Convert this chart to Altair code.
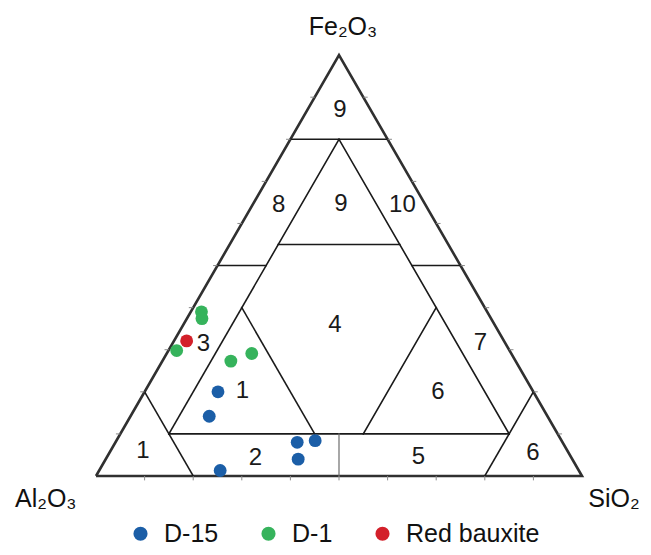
import altair as alt
import pandas as pd

# ---- sample compositions (%, Al2O3 / SiO2 / Fe2O3) ----
d15_al = [64.9, 69.6, 73.8, 54.6, 50.7, 56.4]
d15_si = [15.1, 16.2, 24.9, 37.4, 40.9, 39.6]
d15_fe = [20.0, 14.2, 1.3, 8.0, 8.4, 4.0]

d1_al = [58.8, 59.5, 68.5, 58.6, 53.4]
d1_si = [2.2, 3.1, 1.7, 14.1, 17.5]
d1_fe = [39.0, 37.4, 29.8, 27.3, 29.1]

red_al = [65.3]
red_si = [2.6]
red_fe = [32.1]

series = ["D-15", "D-1", "Red bauxite"]
colors = ["#1b5ea7", "#36b35c", "#d3202a"]

# ---- field boundaries (SiO2 fraction, Fe2O3 fraction) ----
seg_s1 = [0.0, 0.1, 0.1, 0.1, 0.1, 0.0, 0.4, 0.0, 0.8, 0.1, 0.5]
seg_f1 = [0.8, 0.1, 0.8, 0.1, 0.55, 0.5, 0.5, 0.2, 0.0, 0.4, 0.1]
seg_s2 = [0.2, 0.1, 0.8, 0.8, 0.35, 0.1, 0.5, 0.2, 0.8, 0.4, 0.5]
seg_f2 = [0.8, 0.8, 0.1, 0.1, 0.55, 0.5, 0.5, 0.0, 0.2, 0.1, 0.4]

# thin divider between fields 2 and 5
div_s1 = [0.45]
div_f1 = [0.1]
div_s2 = [0.5]
div_f2 = [0.0]

outer_s = [0.0, 1.0, 0.0, 0.0]
outer_f = [0.0, 0.0, 1.0, 0.0]

# ---- field numbers ----
region_text = ["9", "8", "9", "10", "4", "3", "7", "1", "6", "1", "2", "5", "6"]
region_si = [0.0675, 0.0533, 0.1804, 0.3081, 0.3124, 0.0644, 0.6326, 0.2010, 0.6040, 0.0673, 0.3068, 0.6402, 0.8721]
region_fe = [0.8687, 0.6448, 0.6474, 0.6448, 0.3588, 0.3136, 0.3167, 0.2008, 0.1991, 0.0589, 0.0428, 0.0461, 0.0542]

vertex_text = ["Fe₂O₃", "Al₂O₃", "SiO₂"]
tick_values = [0.1, 0.2, 0.3, 0.4, 0.5, 0.6, 0.7, 0.8, 0.9]

FONT = "Liberation Sans"
PX = 486.0  # pixels per unit side
W, H = 635, 547
X0, Y0 = 88.0, 468.0
xdom = [-X0 / PX, (W - X0) / PX]
ydom = [(Y0 - H) / PX, Y0 / PX]

xs = alt.Scale(domain=xdom, nice=False, zero=False)
ys = alt.Scale(domain=ydom, nice=False, zero=False)

# points
rows = []
for name, al, si, fe in [("D-15", d15_al, d15_si, d15_fe),
                         ("D-1", d1_al, d1_si, d1_fe),
                         ("Red bauxite", red_al, red_si, red_fe)]:
    for a, s, f in zip(al, si, fe):
        rows.append({"series": name, "al": a, "si": s, "fe": f})
pts = pd.DataFrame(rows)

points = alt.Chart(pts).transform_calculate(
    tot="datum.al + datum.si + datum.fe",
    x="(datum.si + datum.fe / 2) / datum.tot",
    y="datum.fe * 0.8660254 / datum.tot",
).mark_circle(size=165, opacity=1).encode(
    x=alt.X("x:Q", scale=xs, axis=None),
    y=alt.Y("y:Q", scale=ys, axis=None),
    color=alt.Color("series:N", scale=alt.Scale(domain=series, range=colors),
                    sort=series,
                    legend=alt.Legend(title=None, orient="none", direction="horizontal",
                                      legendX=120, legendY=513,
                                      labelFont=FONT, labelFontSize=25, labelColor="#111",
                                      symbolType="circle", symbolSize=200,
                                      symbolStrokeWidth=0, labelOffset=11,
                                      columnPadding=37)),
)

segs = pd.DataFrame({"s1": seg_s1, "f1": seg_f1, "s2": seg_s2, "f2": seg_f2})
divs = pd.DataFrame({"s1": div_s1, "f1": div_f1, "s2": div_s2, "f2": div_f2})


def rules(df, color, width):
    return alt.Chart(df).transform_calculate(
        x="datum.s1 + datum.f1 / 2", y="datum.f1 * 0.8660254",
        x2="datum.s2 + datum.f2 / 2", y2="datum.f2 * 0.8660254",
    ).mark_rule(color=color, strokeWidth=width, strokeCap="square").encode(
        x=alt.X("x:Q", scale=xs, axis=None), y=alt.Y("y:Q", scale=ys, axis=None),
        x2="x2:Q", y2="y2:Q")


inner = rules(segs, "#1a1a1a", 1.6)
divider = rules(divs, "#6d6d6d", 1.2)

outer_df = pd.DataFrame({"s": outer_s, "f": outer_f, "o": list(range(len(outer_s)))})
outer = alt.Chart(outer_df).transform_calculate(
    x="datum.s + datum.f / 2", y="datum.f * 0.8660254"
).mark_line(color="#303030", strokeWidth=2.6, strokeJoin="miter").encode(
    x=alt.X("x:Q", scale=xs, axis=None), y=alt.Y("y:Q", scale=ys, axis=None),
    order="o:Q")

# ticks along the edges
trows = []
for t in tick_values:
    trows.append({"s": t, "f": 0.0, "side": "b"})
    trows.append({"s": 0.0, "f": t, "side": "l"})
    trows.append({"s": 1 - t, "f": t, "side": "r"})
ticks = alt.Chart(pd.DataFrame(trows)).transform_calculate(
    x="datum.s + datum.f / 2", y="datum.f * 0.8660254",
    x2="datum.side == 'l' ? datum.s + datum.f / 2 - 0.009 : (datum.side == 'r' ? datum.s + datum.f / 2 + 0.009 : datum.s + datum.f / 2)",
    y2="datum.side == 'b' ? -0.009 : datum.f * 0.8660254",
).mark_rule(color="#8a8a8a", strokeWidth=1).encode(
    x=alt.X("x:Q", scale=xs, axis=None), y=alt.Y("y:Q", scale=ys, axis=None),
    x2="x2:Q", y2="y2:Q")

reg = pd.DataFrame({"t": region_text, "s": region_si, "f": region_fe})
regions = alt.Chart(reg).transform_calculate(
    x="datum.s + datum.f / 2", y="datum.f * 0.8660254"
).mark_text(font=FONT, fontSize=24, color="#1a1a1a", align="center", baseline="middle").encode(
    x=alt.X("x:Q", scale=xs, axis=None), y=alt.Y("y:Q", scale=ys, axis=None), text="t:N")

vert = pd.DataFrame({"t": vertex_text,
                     "x": [0.5082, -0.1667, 1.1185],
                     "y": [0.9074, -0.0632, -0.0632],
                     "al": ["center", "left", "right"]})
vlayers = []
for i in range(3):
    vlayers.append(alt.Chart(vert.iloc[[i]]).mark_text(
        font=FONT, fontSize=25, color="#111", align=vert["al"][i], baseline="alphabetic"
    ).encode(x=alt.X("x:Q", scale=xs, axis=None), y=alt.Y("y:Q", scale=ys, axis=None), text="t:N"))

chart = alt.layer(outer, inner, divider, ticks, regions, *vlayers, points).properties(
    width=W, height=H, padding=0, autosize=alt.AutoSizeParams(type="none"),
    background="white",
).configure_view(stroke=None)

chart.save("out.html", embed_options={"renderer": "svg", "actions": False})
